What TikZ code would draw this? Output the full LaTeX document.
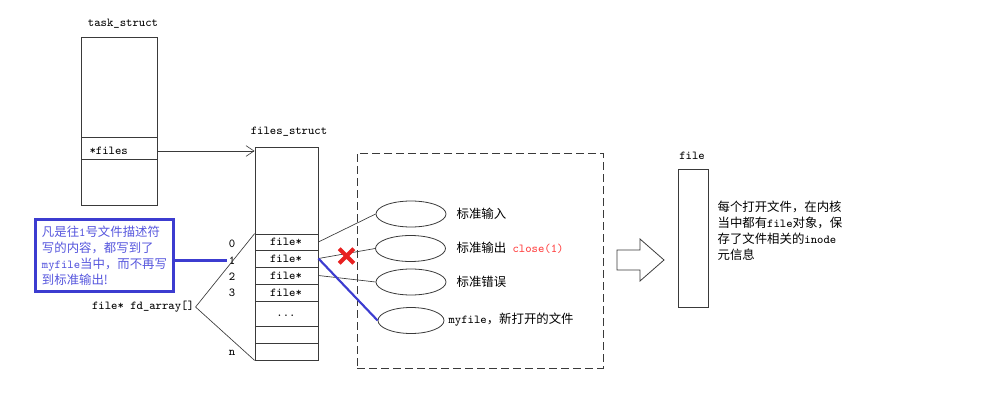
\documentclass[tikz,border=0pt]{standalone}
\usepackage{fontspec}
\newfontfamily\cjk{Noto Sans CJK SC}
\usetikzlibrary{fit,shapes.geometric,shapes.misc,arrows.meta}
\definecolor{ln}{HTML}{3A3A3A}
\definecolor{notebl}{HTML}{3C3CD0}
\definecolor{notetx}{HTML}{5555DD}
\definecolor{xred}{HTML}{E82020}
\definecolor{cred}{HTML}{FF4040}
\newcommand\zh[1]{{\cjk\fontsize{9.3}{12}\selectfont #1}}
\begin{document}
\begin{tikzpicture}[x=0.75pt,y=-0.75pt,
  font=\ttfamily\fontsize{9.1}{12}\selectfont,
  box/.style={draw=ln, line width=0.6pt, inner sep=0pt},
  lbl/.style={inner sep=1pt},
  conn/.style={draw=ln, line width=0.5pt},
  oval/.style={ellipse, draw=ln, line width=0.6pt, minimum width=52.5pt, minimum height=19.5pt, inner sep=0pt},
  blueln/.style={draw=notebl, line width=1.8pt}]
\useasboundingbox (0,0) rectangle (999,403);

% task_struct
\node[lbl] (tasklbl) at (123,24) {task\_struct};
\node[box, fit={(81,37) (157,205)}] (task) {};
\node[box, fit={(81,137) (157,159)}] (taskfiles) {};
\node[lbl, anchor=west] (filesptr) at (88,151) {*files};

% files_struct
\node[lbl] (fslbl) at (289,132) {files\_struct};
\node[box, fit={(255,147) (318,360)}] (fs) {};
\node[box, fit={(255,234) (318,250)}] (r0) {};
\node[box, fit={(255,250) (318,267)}] (r1) {};
\node[box, fit={(255,267) (318,284)}] (r2) {};
\node[box, fit={(255,284) (318,301)}] (r3) {};
\node[box, fit={(255,301) (318,326)}] (r4) {};
\node[box, fit={(255,326) (318,343)}] (r5) {};
\node[box, fit={(255,343) (318,360)}] (r6) {};
\node[lbl] (t0) at (286,242) {file*};
\node[lbl] (t1) at (286,258.5) {file*};
\node[lbl] (t2) at (286,275.5) {file*};
\node[lbl] (t3) at (286,292.5) {file*};
\node[lbl] (t4) at (286,316) {...};

\draw[conn, -{Straight Barb[length=6pt,width=8pt]}] (taskfiles.east |- filesptr) -- (fs.west |- filesptr);

% indices and fd_array
\node[lbl] (i0) at (232,244) {0};
\node[lbl] (i1) at (232,260.5) {1};
\node[lbl] (i2) at (232,277) {2};
\node[lbl] (i3) at (232,293) {3};
\node[lbl] (in) at (232,353) {n};
\node[lbl] (fdarr) at (143,307) {file* fd\_array[]};
\draw[conn] (fdarr.east) -- (r0.north west);
\draw[conn] (fdarr.east) -- (r6.south west);

% blue note
\node[draw=notebl, line width=2.2pt, text=notetx, align=left, inner sep=0pt,
      minimum width=104pt, minimum height=54.5pt] (note) at (104.5,255.5)
  {\zh{凡是往}1\zh{号文件描述符}\\ \zh{写的内容，都写到了}\\ myfile\zh{当中，而不再写}\\ \zh{到标准输出!}};
\draw[blueln] (note.east |- i1) -- (i1.west);

% dashed region
\node[box, dashed, dash pattern=on 6pt off 3pt, fit={(357,153) (603,368)}] (region) {};
\node[oval] (e1) at (411,214) {};
\node[oval] (e2) at (410.5,248.5) {};
\node[oval] (e3) at (411,282) {};
\node[oval, minimum width=49.5pt] (e4) at (411,320.5) {};
\node[lbl, anchor=west] (l1) at (455,214) {\zh{标准输入}};
\node[lbl, anchor=west] (l2) at (455,248) {\zh{标准输出} {\color{cred}close(1)}};
\node[lbl, anchor=west] (l3) at (455,282) {\zh{标准错误}};
\node[lbl, anchor=west] (l4) at (447,320) {myfile\zh{，新打开的文件}};

\draw[conn] (r0.east) -- (e1.west);
\draw[conn] (r1.east) -- (e2.west);
\draw[conn] (r2.east) -- (e3.west);
\draw[blueln, line width=1.6pt] (r1.east) -- (e4.west);
\node[cross out, draw=xred, line width=3pt, minimum size=8pt, inner sep=0pt] (xmark) at (346.5,256) {};

% block arrow
\draw[ln, line width=0.6pt] (617,250) -- (640,250) -- (640,239) -- (664,260) -- (640,281) -- (640,270) -- (617,270) -- cycle;

% file
\node[lbl] (filelbl) at (692,156) {file};
\node[box, fit={(678,169) (708,307)}] (filebox) {};
\node[lbl, anchor=north west, align=left] (desc) at (716,199)
  {\zh{每个打开文件，在内核}\\ \zh{当中都有}file\zh{对象，保}\\ \zh{存了文件相关的}inode\\ \zh{元信息}};
\end{tikzpicture}
\end{document}
